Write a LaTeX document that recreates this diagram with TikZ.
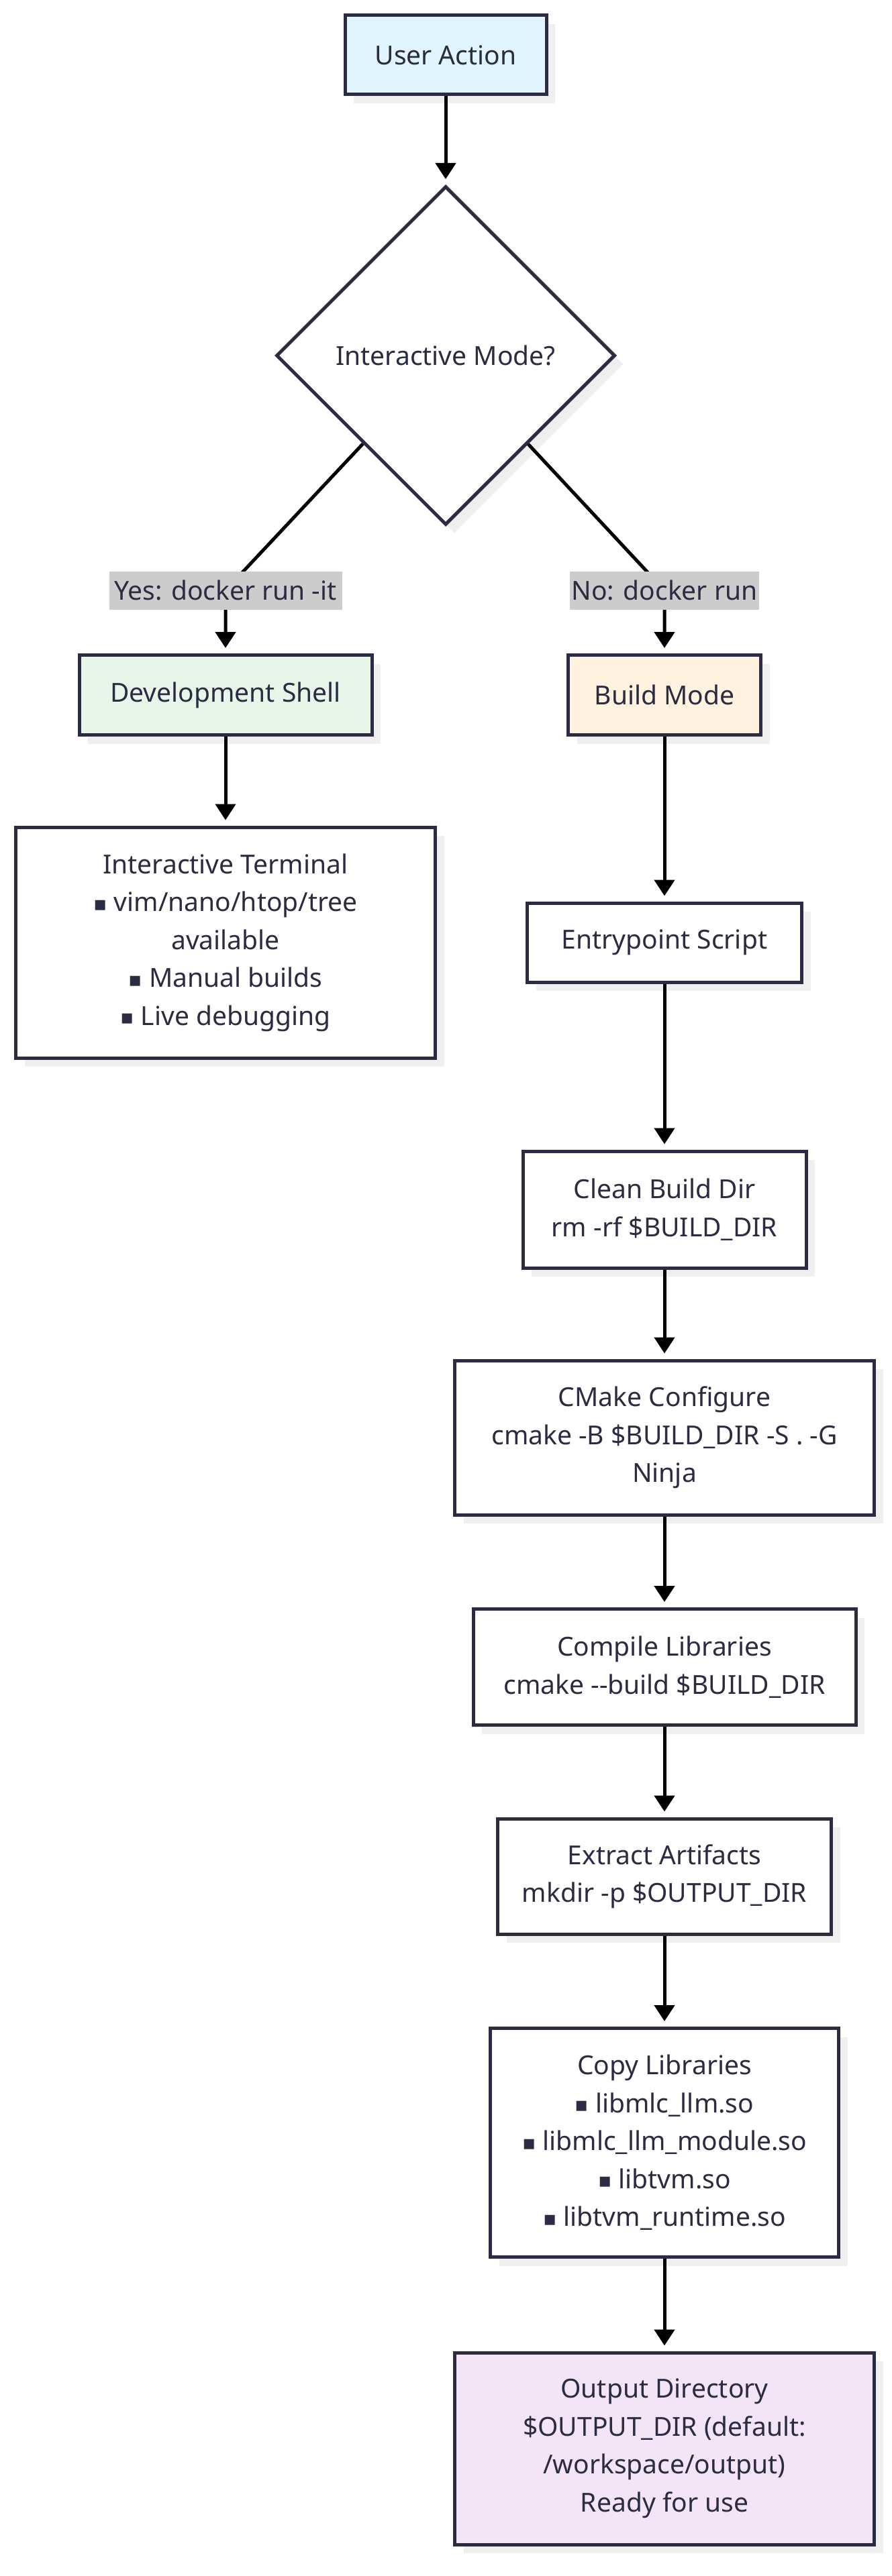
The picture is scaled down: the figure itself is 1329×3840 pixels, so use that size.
\documentclass[tikz,border=0pt]{standalone}
\usepackage{fontspec}
\setmainfont{Noto Sans}
\newfontfamily\djv{DejaVu Sans}
\usetikzlibrary{shapes.geometric,arrows.meta,shadows}
\definecolor{ink}{HTML}{2B2B42}
\definecolor{shade}{HTML}{EFEFEF}
\definecolor{lab}{HTML}{CCCCCC}
\definecolor{cblue}{HTML}{E1F5FE}
\definecolor{cgreen}{HTML}{E8F5E9}
\definecolor{corange}{HTML}{FFF3E0}
\definecolor{cpurple}{HTML}{F3E5F5}
\newcommand\mybul{\raisebox{1.5pt}{\djv\fontsize{30}{30}\selectfont ▪}}
\pgfdeclarelayer{back}
\pgfdeclarelayer{front}
\pgfsetlayers{back,main,front}
\begin{document}
\begin{tikzpicture}[x=1pt,y=-1pt,
  txt/.style={font=\fontsize{39}{56.5}\selectfont, text=ink, align=center},
  myshadow/.style={drop shadow={shadow xshift=13pt, shadow yshift=-13pt, fill=shade, opacity=1}},
  box/.style={txt, rectangle, draw=ink, line width=5pt, fill=white, inner sep=0pt, myshadow},
  dia/.style={txt, diamond, aspect=1, draw=ink, line width=5pt, fill=white, inner sep=0pt,
    minimum width=505pt, minimum height=505pt, myshadow},
  elab/.style={txt, fill=lab, inner xsep=3pt, inner ysep=0pt, minimum height=57pt},
  flow/.style={draw=black, line width=5pt, -{Triangle[width=30pt,length=24pt]}, shorten >=8pt}
]
\begin{pgfonlayer}{back}
  \fill[white] (0,0) rectangle (1329,3840);
\end{pgfonlayer}
\useasboundingbox (0,0) rectangle (1329,3840);

\node[box, fill=cblue, minimum width=300pt, minimum height=118pt] (ua) at (664,82) {User Action};
\node[dia] (dec) at (664,530) {Interactive Mode?};
\begin{pgfonlayer}{front}
\node[elab, minimum width=347pt] (ylab) at (336,880) {Yes: docker run -it};
\node[elab, minimum width=270pt] (nlab) at (990,880) {No: docker run};
\end{pgfonlayer}
\node[box, fill=cgreen, minimum width=436pt, minimum height=119pt] (dev) at (336,1036) {Development Shell};
\node[box, fill=corange, minimum width=287pt, minimum height=119pt] (bm) at (990,1036) {Build Mode};
\node[box, minimum width=625pt, minimum height=344pt] (it) at (336,1405)
  {Interactive Terminal\\\mybul{} vim/nano/htop/tree\\available\\\mybul{} Manual builds\\\mybul{} Live debugging};
\node[box, minimum width=409pt, minimum height=118pt] (ep) at (990,1405) {Entrypoint Script};
\node[box, minimum width=422pt, minimum height=174pt] (cb) at (990,1803) {Clean Build Dir\\rm -rf \$BUILD\_DIR};
\node[box, minimum width=625pt, minimum height=230pt] (cm) at (990,2143) {CMake Configure\\cmake -B \$BUILD\_DIR -S . -G\\Ninja};
\node[box, minimum width=570pt, minimum height=173pt] (cl) at (990,2485) {Compile Libraries\\cmake -{}-build \$BUILD\_DIR};
\node[box, minimum width=497pt, minimum height=172pt] (ea) at (990,2797) {Extract Artifacts\\mkdir -p \$OUTPUT\_DIR};
\node[box, minimum width=519pt, minimum height=341pt] (cp) at (990,3194)
  {Copy Libraries\\\mybul{} libmlc\_llm.so\\\mybul{} libmlc\_llm\_module.so\\\mybul{} libtvm.so\\\mybul{} libtvm\_runtime.so};
\node[box, fill=cpurple, minimum width=625pt, minimum height=286pt] (od) at (990,3650)
  {Output Directory\\\$OUTPUT\_DIR (default:\\/workspace/output)\\Ready for use};

\draw[flow] (ua) -- (dec);
\draw[flow] (dec) -- (ylab.center) -- (dev);
\draw[flow] (dec) -- (nlab.center) -- (bm);
\draw[flow] (dev) -- (it);
\draw[flow] (bm) -- (ep);
\draw[flow] (ep) -- (cb);
\draw[flow] (cb) -- (cm);
\draw[flow] (cm) -- (cl);
\draw[flow] (cl) -- (ea);
\draw[flow] (ea) -- (cp);
\draw[flow] (cp) -- (od);
\end{tikzpicture}
\end{document}
